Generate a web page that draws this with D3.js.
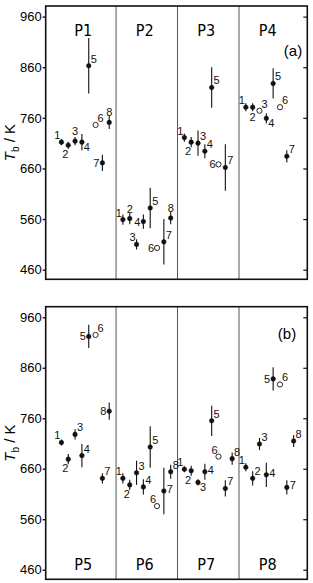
<!DOCTYPE html>
<html>
<head>
<meta charset="utf-8">
<script src="https://cdn.jsdelivr.net/npm/d3@7"></script>
<style>
  body { margin: 0; background: #fff; }
  svg { display: block; font-family: "Liberation Sans", Arial, sans-serif; }
</style>
</head>
<body>
<div id="chart"></div>
<script>
// Tick values of the T_b axis
var yTicks = [460, 560, 660, 760, 860, 960];

// Group names
var groupsA = ["P1", "P2", "P3", "P4"];
var groupsB = ["P5", "P6", "P7", "P8"];

// T_b values (K) for the numbered points 1..8 in each group
var tbA = [
    [712, 706, 714, 712, 863, 746, 671, 751],
    [559, 561, 510, 555, 582, 503, 515, 562],
    [721, 712, 710, 694, 820, 668, 662],
    [781, 781, 774, 759, 828, 781, 684]
];
var tbB = [
    [712, 679, 728, 686, 922, 925, 641, 774],
    [641, 628, 652, 624, 703, 586, 616, 654],
    [659, 656, 633, 654, 755, 684, 621, 680],
    [663, 641, 709, 648, 838, 827, 623, 715]
];

// Error (half length of the bar, K)
var errA = [
    [6, 7, 8, 16, 55, 0, 16, 13],
    [10, 11, 10, 14, 40, 0, 45, 12],
    [8, 10, 25, 14, 40, 0, 46],
    [8, 8, 0, 10, 30, 0, 12]
];
var errB = [
    [6, 10, 10, 23, 23, 0, 10, 17],
    [10, 10, 24, 15, 41, 0, 46, 14],
    [6, 10, 6, 16, 30, 0, 16, 12],
    [8, 14, 12, 24, 23, 0, 14, 12]
];

// Points drawn as open circles
var openA = [[6], [6], [6], [3, 6]];
var openB = [[6], [6], [6], [6]];

// Side of the point where its number is written
var sideA = [
    ["ul", "ll", "u", "lr", "ur", "ur", "l", "u"],
    ["ul", "u", "ul", "l", "ur", "l", "ur", "u"],
    ["ul", "ll", "ur", "ur", "ur", "l", "ur"],
    ["ul", "b", "ur", "lr", "ur", "ur", "ur"]
];
var sideB = [
    ["ul", "ll", "ur", "ur", "l", "ur", "ur", "l"],
    ["ul", "ll", "ur", "ur", "ur", "ul", "r", "ur"],
    ["ul", "ll", "lr", "r", "ur", "ul", "ur", "ur"],
    ["ul", "ur", "ur", "r", "l", "ur", "r", "ur"]
];

var width = 313, height = 583;
var left = 45.7, right = 307.3;

var svg = d3.select("#chart")
    .append("svg")
    .attr("width", width)
    .attr("height", height);

// one shared x scale: group g, point i -> g*9 + i
var x = d3.scaleLinear().domain([-1.3, 37]).range([left, right]);

// label offsets (dx, dy of label centre)
var offs = {
    ul: [-4, -7], ll: [-3, 9], u: [0, -10], ur: [5, -7],
    r: [6, -2], lr: [5, 5], l: [-6, 0], b: [0, 10]
};

function drawPanel(top, bottom, groups, tb, err, open, side, tag, tagX, tagY, groupLabelY) {
    var y = d3.scaleLinear().domain([441, 981]).range([bottom, top]);
    var g = svg.append("g");

    // group dividers
    [9, 18, 27].forEach(function (d) {
        g.append("line")
            .attr("x1", x(d)).attr("x2", x(d))
            .attr("y1", top).attr("y2", bottom)
            .attr("stroke", "#555").attr("stroke-width", 1);
    });

    // frame
    g.append("rect")
        .attr("x", left).attr("y", top)
        .attr("width", right - left).attr("height", bottom - top)
        .attr("fill", "none").attr("stroke", "#111").attr("stroke-width", 1.6);

    // left axis
    var ax = g.append("g")
        .attr("transform", "translate(" + left + ",0)")
        .call(d3.axisLeft(y).tickValues(yTicks).tickSize(3).tickPadding(1));
    ax.select(".domain").remove();
    ax.selectAll("line").attr("stroke", "#111").attr("stroke-width", 1.4);
    ax.selectAll("text").style("font-size", "13px").attr("fill", "#000");

    // right ticks, inward
    var ar = g.append("g")
        .attr("transform", "translate(" + right + ",0)")
        .call(d3.axisRight(y).tickValues(yTicks).tickSize(-4).tickFormat(""));
    ar.select(".domain").remove();
    ar.selectAll("line").attr("stroke", "#111").attr("stroke-width", 1.2);

    // axis title
    var t = g.append("text")
        .attr("transform", "translate(15," + ((top + bottom) / 2) + ") rotate(-90)")
        .attr("text-anchor", "middle")
        .style("font-size", "15px")
        .attr("fill", "#000");
    t.append("tspan").style("font-style", "italic").text("T");
    t.append("tspan").attr("dy", 4).style("font-size", "10px").text("b");
    t.append("tspan").attr("dy", -4).text(" / K");

    // tag (a)/(b)
    g.append("text")
        .attr("x", tagX).attr("y", tagY)
        .attr("text-anchor", "middle")
        .attr("dominant-baseline", "central")
        .style("font-size", "15px")
        .text(tag);

    groups.forEach(function (name, gi) {
        g.append("text")
            .attr("x", x(gi * 9 + 4.2))
            .attr("y", groupLabelY)
            .attr("text-anchor", "middle")
            .style("font-family", "'Liberation Sans Narrow', 'DejaVu Sans Condensed', sans-serif")
            .style("font-size", "16px")
            .text(name);

        tb[gi].forEach(function (v, k) {
            var n = k + 1;
            var cx = x(gi * 9 + n), cy = y(v);
            var isOpen = open[gi].indexOf(n) >= 0;
            var e = err[gi][k];
            if (e > 0) {
                g.append("line")
                    .attr("x1", cx).attr("x2", cx)
                    .attr("y1", y(v - e)).attr("y2", y(v + e))
                    .attr("stroke", "#111").attr("stroke-width", 1.1);
            }
            g.append("circle")
                .attr("cx", cx).attr("cy", cy)
                .attr("r", isOpen ? 2.6 : 2.3)
                .attr("fill", isOpen ? "#fff" : "#111")
                .attr("stroke", "#111")
                .attr("stroke-width", isOpen ? 0.9 : 0.5);
            var o = offs[side[gi][k]];
            g.append("text")
                .attr("x", cx + o[0]).attr("y", cy + o[1])
                .attr("text-anchor", "middle")
                .attr("dominant-baseline", "central")
                .style("font-size", "11px")
                .attr("fill", "#111")
                .text(n);
        });
    });
}

drawPanel(6, 279.3, groupsA, tbA, errA, openA, sideA, "(a)", 293, 50, 36);
drawPanel(306.7, 579.3, groupsB, tbB, errB, openB, sideB, "(b)", 287, 333, 570);
</script>
</body>
</html>
